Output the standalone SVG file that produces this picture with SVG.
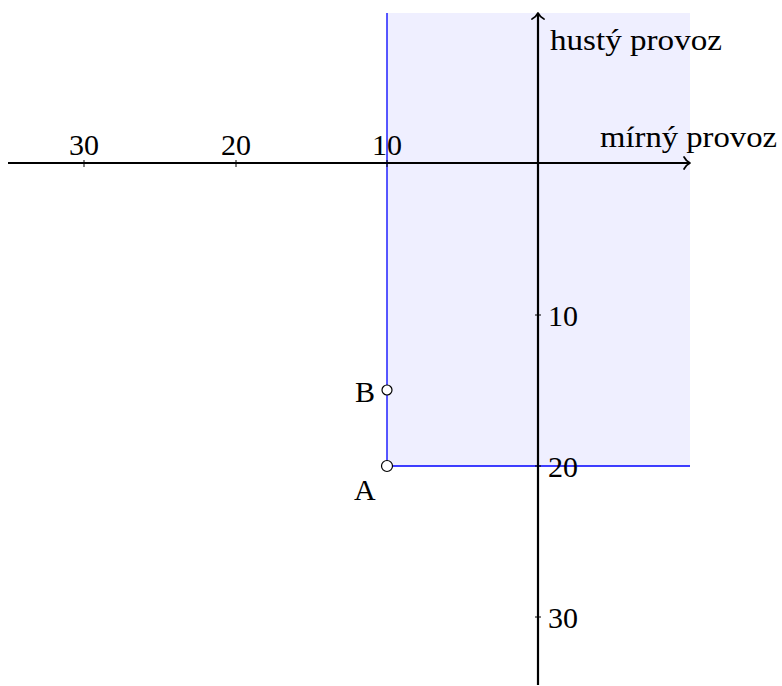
<svg xmlns="http://www.w3.org/2000/svg" width="782" height="686" viewBox="0 0 782 686">
<style>
text{font-family:"Liberation Serif","DejaVu Serif",serif;font-size:30px;fill:#000}
.ax{stroke:#000;stroke-width:2.2;fill:none}
.tk{stroke:#000;stroke-width:1;fill:none}
.bl{stroke:#0000ff;stroke-width:1.3;fill:none}
.ah{stroke:#000;stroke-width:1.7;fill:none;stroke-linecap:round;stroke-linejoin:round}
.pt{fill:#fff;stroke:#000;stroke-width:1.2}
</style>
<g id="region">
<rect x="387" y="13" width="303" height="453" fill="#efefff"/>
<path class="bl" d="M387,13 V466 H690"/>
</g>
<g id="connectors">
<line class="ax" x1="8" y1="163" x2="689" y2="163"/>
<path class="ah" d="M684,157 Q686,161 690,163 Q686,165 684,169"/>
<line class="ax" x1="538" y1="685" x2="538" y2="14"/>
<path class="ah" d="M532,19 Q536,17 538,13 Q540,17 544,19"/>
<path class="tk" d="M84,160 V167 M236,160 V167 M387,160 V167 M535,315 H541 M535,466 H541 M535,617 H541"/>
</g>
<g id="labels">
<text x="84" y="155" text-anchor="middle">30</text>
<text x="236" y="155" text-anchor="middle">20</text>
<text x="387" y="155" text-anchor="middle">10</text>
<text x="548" y="326">10</text>
<text x="548" y="477">20</text>
<text x="548" y="628">30</text>
<text x="550" y="50" textLength="172" lengthAdjust="spacingAndGlyphs">hustý provoz</text>
<text x="600" y="147" textLength="177" lengthAdjust="spacingAndGlyphs">mírný provoz</text>
</g>
<g id="pointB">
<circle class="pt" cx="387" cy="390" r="5"/>
<text x="355" y="402">B</text>
</g>
<g id="pointA">
<circle class="pt" cx="387" cy="466" r="5.5"/>
<text x="354" y="500">A</text>
</g>
</svg>
